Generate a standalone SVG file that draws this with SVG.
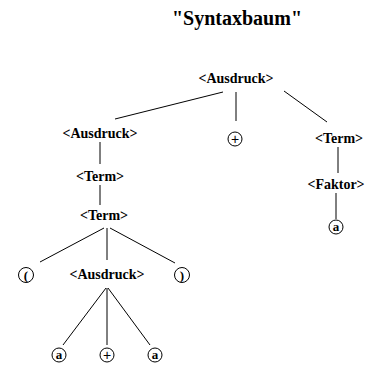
<svg xmlns="http://www.w3.org/2000/svg" width="380" height="369" viewBox="0 0 380 369">
<style>
.t{font-weight:bold;font-size:14px;text-anchor:middle;fill:#000}
.title{font-weight:bold;font-size:20px;text-anchor:middle;fill:#000}
.c{fill:none;stroke:#000;stroke-width:1}
.ct{font-weight:bold;font-size:13px;text-anchor:middle;fill:#000}
.ctn{font-size:14px;text-anchor:middle;fill:#000}
.e{stroke:#000;stroke-width:1;fill:none}
</style>
<rect width="380" height="369" fill="#fff"/>
<g font-family="Liberation Serif, serif">
<text class="title" x="237" y="25">"Syntaxbaum"</text>
<g id="root"><text class="t" x="236" y="83">&lt;Ausdruck&gt;</text></g>
<g id="plus1"><circle class="c" cx="235" cy="139" r="7"/><text class="ctn" x="235" y="144" font-family="Liberation Sans, sans-serif">+</text></g>
<g id="term-r"><text class="t" x="339" y="143">&lt;Term&gt;</text></g>
<g id="faktor"><text class="t" x="336" y="189">&lt;Faktor&gt;</text></g>
<g id="a1"><circle class="c" cx="336" cy="227" r="7"/><text class="ct" x="336" y="231">a</text></g>
<g id="ausdruck-l"><text class="t" x="100" y="138">&lt;Ausdruck&gt;</text></g>
<g id="term1"><text class="t" x="100" y="181">&lt;Term&gt;</text></g>
<g id="term2"><text class="t" x="104" y="220">&lt;Term&gt;</text></g>
<g id="lparen"><circle class="c" cx="26" cy="275" r="7.5"/><text class="ct" x="26" y="279.5">(</text></g>
<g id="ausdruck-2"><text class="t" x="107" y="279">&lt;Ausdruck&gt;</text></g>
<g id="rparen"><circle class="c" cx="182" cy="275" r="7.5"/><text class="ct" x="182" y="279.5">)</text></g>
<g id="a2"><circle class="c" cx="59" cy="355" r="7"/><text class="ct" x="59" y="359">a</text></g>
<g id="plus2"><circle class="c" cx="107" cy="355" r="7"/><text class="ctn" x="107" y="360" font-family="Liberation Sans, sans-serif">+</text></g>
<g id="a3"><circle class="c" cx="155" cy="355" r="7"/><text class="ct" x="155" y="359">a</text></g>
</g>
<g id="connectors">
<line class="e" x1="223" y1="92" x2="115" y2="119"/>
<line class="e" x1="236" y1="92" x2="236" y2="121"/>
<line class="e" x1="284" y1="91" x2="327" y2="122"/>
<line class="e" x1="338" y1="147" x2="338" y2="173"/>
<line class="e" x1="336" y1="193" x2="336" y2="219"/>
<line class="e" x1="100" y1="142" x2="100" y2="164"/>
<line class="e" x1="100" y1="185" x2="100" y2="205"/>
<line class="e" x1="104" y1="228" x2="40" y2="262"/>
<line class="e" x1="107" y1="228" x2="107" y2="260"/>
<line class="e" x1="110" y1="228" x2="175" y2="263"/>
<line class="e" x1="106" y1="288" x2="63" y2="345"/>
<line class="e" x1="107" y1="288" x2="107" y2="345"/>
<line class="e" x1="108" y1="288" x2="150" y2="345"/>
</g>
</svg>
